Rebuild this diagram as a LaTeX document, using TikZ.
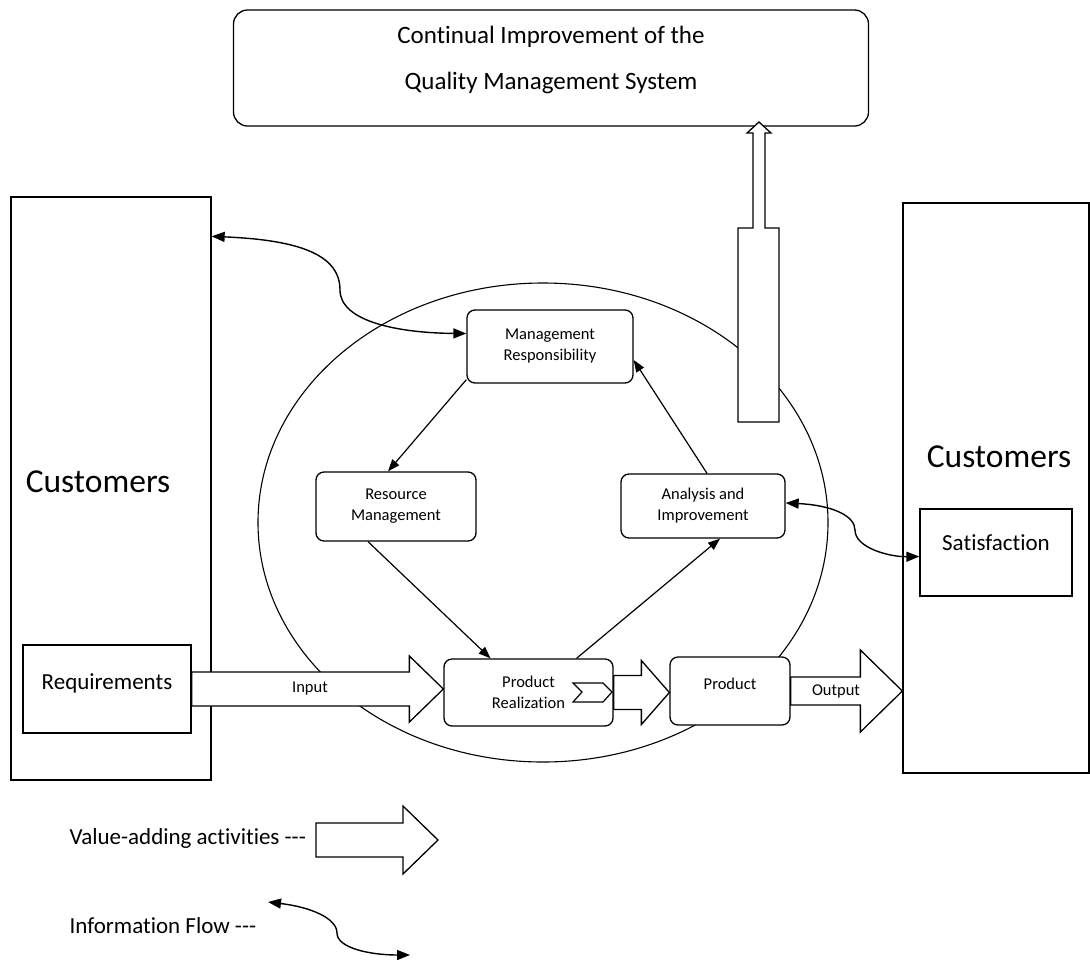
\documentclass[tikz,border=0pt]{standalone}
\usepackage{fontspec}
\setmainfont{Carlito}[Ligatures={TeXOff,CommonOff,ContextualOff,RequiredOff}]
\usetikzlibrary{shapes.geometric, arrows.meta, positioning, calc}

\begin{document}
\begin{tikzpicture}[
    x=1pt, y=-1pt,
    box/.style={draw, line width=1.3pt, fill=white, rounded corners=8pt, align=center, inner sep=0pt, font=\fontsize{16.5}{21}\selectfont},
    bigbox/.style={draw, line width=1.3pt, fill=white, inner sep=0pt},
    bigtext/.style={font=\fontsize{33.5}{38}\selectfont},
    midtext/.style={font=\fontsize{23}{26}\selectfont},
    arrow/.style={line width=1.2pt, -{Triangle[length=12pt,width=9pt]}},
    info/.style={line width=1.4pt, {Triangle[length=13pt,width=10pt]}-{Triangle[length=13pt,width=10pt]}},
    fatarrow/.style n args={3}{draw, line width=1.3pt, fill=white, line join=miter,
        to path={let \p1=(\tikztostart), \p2=(\tikztotarget) in
            (\x1,\y1+#1) -- (\x2-#3,\y1+#1) -- (\x2-#3,\y1+#2) -- (\x2,\y1)
            -- (\x2-#3,\y1-#2) -- (\x2-#3,\y1-#1) -- (\x1,\y1-#1) -- cycle}}
]
\useasboundingbox (0,0) rectangle (1090,962);

% Top box
\node[draw, line width=1.3pt, fill=white, rounded corners=14pt, minimum width=635pt, minimum height=116pt] (cip) at (551,68) {};
\node[align=center, font=\fontsize{25}{46}\selectfont] (ciptxt) at (551,60)
      {Continual Improvement of the\\Quality Management System};

% Process circle
\node[draw, ellipse, line width=1.1pt, inner sep=0pt, minimum width=570pt, minimum height=479pt] (loop) at (543,522.5) {};

% Measurement arrow up to the top box
\draw[line width=1.3pt, fill=white, line join=miter]
    (738,422) -- (738,228) -- (753,228) -- (753,133) -- (747,133) -- (759,122)
    -- (771,133) -- (765,133) -- (765,228) -- (779,228) -- (779,422) -- cycle;

% Customers
\node[bigbox, minimum width=200pt, minimum height=583pt] (custL) at (111,488.5) {};
\node[bigtext] (custLtxt) at (98,482) {Customers};
\node[bigbox, minimum width=168pt, minimum height=88pt, text depth=15pt, midtext] (req) at (107,689) {Requirements};

\node[bigbox, minimum width=186pt, minimum height=570pt] (custR) at (996,488) {};
\node[bigtext] (custRtxt) at (999,457) {Customers};
\node[bigbox, minimum width=152pt, minimum height=87pt, text depth=20pt, midtext] (sat) at (996,552.5) {Satisfaction};

% Processes
\node[box, minimum width=166pt, minimum height=73pt] (mr) at (550,346.5) {Management\\Responsibility};
\node[box, minimum width=160pt, minimum height=69pt] (rm) at (396,506.5) {Resource\\Management};
\node[box, minimum width=164pt, minimum height=64pt] (ai) at (703,506) {Analysis and\\Improvement};
\node[box, minimum width=169pt, minimum height=67pt] (pr) at (528.5,692.5) {Product\\Realization};
\node[box, minimum width=120pt, minimum height=68pt, text depth=14pt] (prod) at (730,691) {Product};

% Chevron in product realization
\draw[line width=1.2pt] (573,683) -- (603,683) -- (612,692) -- (603,702) -- (573,702) -- (582,692) -- cycle;

% Value-adding activities
\draw[fatarrow={17pt}{33pt}{34pt}] (req.east) to (pr.west);
\node[font=\fontsize{16.5}{20}\selectfont] (inp) at (310,689) {Input};
\draw[fatarrow={17pt}{32pt}{28pt}] (pr.east) to (prod.west);
\draw[fatarrow={14pt}{41pt}{42pt}] (prod.east) to (prod.east -| custR.west);
\node[font=\fontsize{16.5}{20}\selectfont] (outp) at (836,691) {Output};

% Cycle
\draw[arrow] ([yshift=4pt]mr.south west) -- ([xshift=-8pt]rm.north);
\draw[arrow] ([xshift=-28pt]rm.south) -- ([xshift=-38pt]pr.north);
\draw[arrow] ([xshift=48pt]pr.north) -- ([xshift=17pt]ai.south);
\draw[arrow] ([xshift=4pt]ai.north) -- ([yshift=-13.5pt]mr.east);

% Information flow
\draw[info] ([yshift=-40pt]custL.north east) .. controls (300,240) and (340,255) .. (340,290)
    .. controls (340,322) and (400,333) .. ([yshift=13pt]mr.west);
\draw[info] ([yshift=3pt]ai.east) .. controls (830,505) and (855,515) .. (855,530)
    .. controls (855,548) and (890,557) .. ([yshift=-4pt]sat.west);

% Legend
\node[midtext, anchor=west] (va) at (66,838) {Value-adding activities ---};
\coordinate (va1) at (316,840);
\coordinate (va2) at (438,840);
\draw[fatarrow={17pt}{34pt}{35pt}] (va1) to (va2);

\node[midtext, anchor=west] (inf) at (66,926) {Information Flow ---};
\coordinate (if1) at (268,902);
\coordinate (if2) at (410,955);
\draw[info] (if1) .. controls (310,907) and (337,918) .. (337,933)
    .. controls (337,948) and (370,955) .. (if2);

\end{tikzpicture}
\end{document}
